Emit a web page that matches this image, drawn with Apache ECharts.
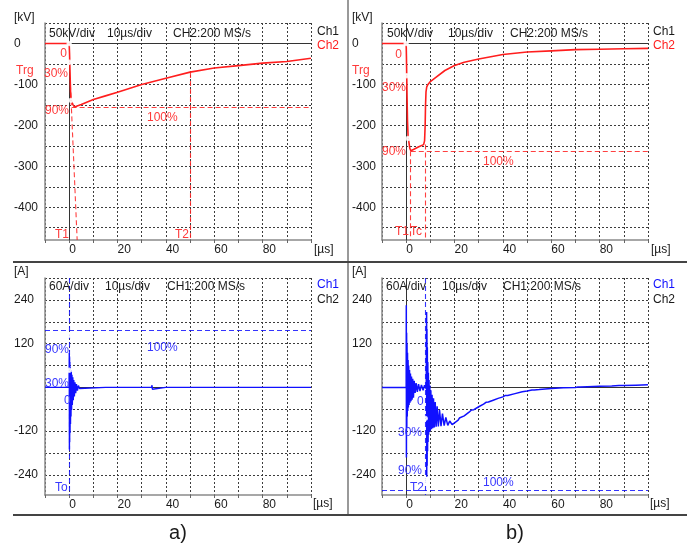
<!DOCTYPE html>
<html><head><meta charset="utf-8">
<script src="https://cdn.jsdelivr.net/npm/echarts@6/dist/echarts.min.js"></script>
<style>html,body{margin:0;padding:0;background:#fff}#c{width:693px;height:545px}</style>
</head><body><div id="c"></div>
<script>
// ---- axis ticks / labels ----
const xLabelVals = [0, 20, 40, 60, 80];
const kvGridVals = [50, 0, -50, -100, -150, -200, -250, -300, -350, -400, -450];
const kvLabelVals = [0, -100, -200, -300, -400];
const aGridVals = [300, 240, 180, 120, 60, 0, -60, -120, -180, -240];
const aLabelVals = [240, 120, -120, -240];

// ---- waveforms: [time µs, value] ----
const voltA = [[-10,0],[0,0],[0.15,-25],[0.35,-70],[0.55,-115],[0.75,-138],[0.95,-136],[1.2,-142],[1.6,-150],[2.2,-155],[3,-154],[5,-149],[10,-137],[15,-128],[20,-119],[30,-100],[40,-85],[50,-70],[60,-60],[70,-54],[80,-48],[90,-44],[100,-36]];
const voltB = [[-10,0],[0,0],[0.1,-30],[0.3,-110],[0.55,-190],[0.8,-228],[1.0,-236],[1.2,-240],[1.5,-256],[1.9,-262],[3,-259],[5,-253],[7.2,-247],[7.6,-238],[7.85,-200],[8.0,-150],[8.2,-118],[8.5,-106],[9,-100],[10,-93],[12,-84],[16,-66],[20,-54],[24,-46],[30,-38],[40,-27],[50,-21],[60,-18],[70,-15],[80,-14],[90,-13],[100,-12]];
const currA = [[-10,0],[-0.05,0],[0,0],[0.05,95],[0.1,-170],[0.15,85],[0.2,-150],[0.28,70],[0.36,-125],[0.45,55],[0.55,-100],[0.65,48],[0.75,-80],[0.88,42],[1.0,-62],[1.15,35],[1.3,-48],[1.5,28],[1.7,-35],[1.9,20],[2.15,-25],[2.4,14],[2.7,-16],[3.0,9],[3.4,-9],[3.8,5],[4.3,-3],[5,0],
  [15.1,0],[15.25,5],[15.4,-4],[15.55,0],[22.6,0],[22.75,5],[22.9,-4],[23.05,0],[34.1,0],[34.25,6],[34.4,-5],[34.55,0],[39.9,0],[40.05,5],[40.2,-5],[40.35,0],
  [53.6,0],[53.75,5],[53.9,-4],[54.05,0],[71.6,0],[71.75,4],[71.9,-4],[72.05,0],[78.6,0],[78.75,5],[78.9,-4],[79.05,0],[97.3,0],[97.45,5],[97.6,-4],[97.75,0],[100,0]];
const currB = [[-10,0],[0,0],[0.05,225],[0.1,-192],[0.18,150],[0.26,-110],[0.35,120],[0.45,-80],[0.55,95],[0.66,-65],[0.78,75],[0.9,-55],[1.05,60],[1.2,-48],[1.38,48],[1.56,-42],[1.76,38],[1.98,-38],[2.2,30],[2.45,-34],[2.7,24],[3.0,-28],[3.3,18],[3.7,-15],[4.1,12],[4.6,-12],[5.1,9],[5.7,-10],[6.3,7],[7.0,-8],[7.6,6],[8.3,-4],
  [8.45,207],[8.5,-245],[8.58,160],[8.66,-215],[8.75,110],[8.85,-175],[8.95,70],[9.06,-150],[9.18,40],[9.3,-130],[9.45,20],[9.6,-122],[9.78,5],[9.96,-118],[10.2,-8],[10.45,-115],[10.7,-20],[11.0,-112],[11.3,-30],[11.65,-110],[12.0,-40],[12.4,-108],[12.8,-52],[13.3,-107],[13.8,-62],[14.4,-106],[15.0,-72],[15.7,-105],[16.4,-82],[17.2,-104],[18.0,-92],[19.0,-102],
  [20,-97],[21.5,-90],[22,-84],[22.5,-89],[24,-78],[26,-68],[27,-62],[27.5,-67],[28,-61],[30,-53],[32,-46],[33,-41],[33.5,-46],[34,-40],[36,-35],[38,-30],[40,-26],[41,-22],[41.5,-27],[42,-22],[45,-17],[48,-12],[50,-10],[52,-7],[52.5,-12],[53,-7],[55,-6],[60,-3],[65,-1],[70,0],[71,1],[71.5,-4],[72,1],[75,2],[80,3],[85,4],[88,5],[88.5,0],[89,5],[90,5],[95,6],[100,7]];

// ---- annotation levels ----
const peakA_V = -155, peakB_V = -263, peakA_I = 158, peakB_I = -283;
const t2A = 50, t1B = 1.7, tcB = 7.9, t2B_I = 8;

const FONT = '"Liberation Sans", Arial, sans-serif';
const RED = '#ff1e1e', REDT = '#ff3a3a', BLUE = '#1010ff', BLUET = '#3838ff', BLK = '#1a1a1a';

const grids = [
  {left: 45, top: 23, width: 266, height: 217},
  {left: 382, top: 23, width: 266, height: 217},
  {left: 45, top: 278, width: 266, height: 217},
  {left: 382, top: 278, width: 266, height: 217}
];

const yCfg = [
  {min: -480, max: 50, g: kvGridVals, l: kvLabelVals, m: 31},
  {min: -480, max: 50, g: kvGridVals, l: kvLabelVals, m: 30},
  {min: -295, max: 300, g: aGridVals, l: aLabelVals, m: 31},
  {min: -295, max: 300, g: aGridVals, l: aLabelVals, m: 30}
];

const gridLine = {show: true, lineStyle: {color: '#3c3c3c', type: [2, 2], width: 1}};

const xAxes = grids.map((g, i) => ({
  type: 'value', gridIndex: i, min: -10, max: 100, interval: 10,
  axisLine: {show: true, onZero: false, lineStyle: {color: '#8a8a8a', width: 1.5}},
  axisTick: {show: true, length: 3, lineStyle: {color: '#666'}},
  axisLabel: {customValues: xLabelVals, align: 'left', margin: 4, color: BLK, fontSize: 12, fontFamily: FONT},
  splitLine: gridLine
}));
const yAxes = yCfg.map((c, i) => ({
  type: 'value', gridIndex: i, min: c.min, max: c.max,
  axisLine: {show: true, onZero: false, lineStyle: {color: '#8a8a8a', width: 1.5}},
  axisTick: {show: false, customValues: c.g},
  axisLabel: {customValues: c.l, align: 'left', margin: c.m, color: BLK, fontSize: 12, fontFamily: FONT},
  splitLine: gridLine
}));

function seg(x1, y1, x2, y2) { return [{coord: [x1, y1]}, {coord: [x2, y2]}]; }
const zeroStyle = {color: '#333', type: 'solid', width: 1};

function zeroSeries(i, withX) {
  const d = [{yAxis: 0}];
  if (withX) d.push({xAxis: 0});
  return {type: 'line', xAxisIndex: i, yAxisIndex: i, data: [], silent: true,
    markLine: {z: 1, symbol: 'none', silent: true, animation: false, label: {show: false}, lineStyle: zeroStyle, data: d}};
}
function traceSeries(i, data, color, width, marks, circles) {
  return {type: 'line', xAxisIndex: i, yAxisIndex: i, data: data, showSymbol: false, symbol: 'none',
    silent: true, animation: false, z: 3, lineStyle: {color: color, width: width},
    markLine: {symbol: 'none', silent: true, animation: false, label: {show: false},
      lineStyle: {color: color, type: [5, 3], width: 1.1, opacity: 0.85}, data: marks},
    markPoint: {symbol: 'emptyCircle', symbolSize: 3.5, silent: true, animation: false, label: {show: false},
      itemStyle: {color: '#fff', borderColor: color, borderWidth: 0.8, opacity: 0.8}, data: circles.map(c => ({coord: c}))}};
}

const series = [
  zeroSeries(0, true), zeroSeries(1, true), zeroSeries(2, false), zeroSeries(3, true),
  traceSeries(0, voltA, RED, 1.6,
    [seg(1, peakA_V, 100, peakA_V), seg(0.5, -100, 3.3, -480), seg(t2A, -72, t2A, -480)],
    [[0, 0], [0.2, -46], [0.75, -139]]),
  traceSeries(1, voltB, RED, 1.6,
    [seg(1.9, peakB_V, 100, peakB_V), seg(t1B, peakB_V, t1B, -480), seg(tcB, -247, tcB, -480)],
    [[0, 0], [0.25, -79], [0.8, -232]]),
  traceSeries(2, currA, BLUE, 1.4,
    [seg(-10, peakA_I, 100, peakA_I), seg(0, 300, 0, -295)],
    [[0, 47], [0, 143]]),
  traceSeries(3, currB, BLUE, 1.5,
    [seg(-10, peakB_I, 100, peakB_I), seg(t2B_I, 300, t2B_I, -295)],
    [[7.9, -85], [7.9, -255]])
];

function T(x, y, text, color, opt) {
  opt = opt || {};
  return {type: 'text', silent: true, z: 100, style: {x: x, y: y, text: text, fill: color,
    font: (opt.size || 12) + 'px ' + FONT, textAlign: opt.align || 'left', textVerticalAlign: 'middle'}};
}
function L(x1, y1, x2, y2, c, w) {
  return {type: 'line', silent: true, z: 90, shape: {x1: x1, y1: y1, x2: x2, y2: y2}, style: {stroke: c, lineWidth: w}};
}

const graphics = [
  L(348, 0, 348, 515, '#777', 1.5), L(13, 262, 687, 262, '#444', 2), L(13, 515, 687, 515, '#444', 2),
  // top a
  T(14, 18, '[kV]', BLK), T(49, 33.5, '50kV/div', BLK), T(107, 33.5, '10µs/div', BLK), T(173, 33.5, 'CH2:200 MS/s', BLK),
  T(317, 32, 'Ch1', BLK), T(317, 45.5, 'Ch2', RED), T(314, 249.5, '[µs]', BLK),
  T(67, 53.5, '0', REDT, {align: 'right'}), T(16, 70.5, 'Trg', REDT), T(44, 74, '30%', REDT), T(45, 111, '90%', REDT),
  T(147, 117.5, '100%', REDT), T(55, 235, 'T1', REDT), T(175, 235, 'T2', REDT),
  // top b
  T(352, 18, '[kV]', BLK), T(387, 33.5, '50kV/div', BLK), T(448, 33.5, '10µs/div', BLK), T(510, 33.5, 'CH2:200 MS/s', BLK),
  T(653, 32, 'Ch1', BLK), T(653, 45.5, 'Ch2', RED), T(651, 249.5, '[µs]', BLK),
  T(402, 55, '0', REDT, {align: 'right'}), T(352, 70.5, 'Trg', REDT), T(382, 88, '30%', REDT), T(382, 151.5, '90%', REDT),
  T(483, 162, '100%', REDT), T(395, 232, 'T1', REDT), T(410, 232, 'Tc', REDT),
  // bottom a
  T(14, 271.5, '[A]', BLK), T(49, 286.5, '60A/div', BLK), T(105, 286.5, '10µs/div', BLK), T(167, 286.5, 'CH1:200 MS/s', BLK),
  T(317, 285, 'Ch1', BLUE), T(317, 300, 'Ch2', BLK), T(313, 504, '[µs]', BLK),
  T(45, 350, '90%', BLUET), T(45, 384, '30%', BLUET), T(64, 401, '0', BLUET), T(147, 348, '100%', BLUET), T(55, 488, 'To', BLUET),
  // bottom b
  T(352, 271.5, '[A]', BLK), T(386, 286.5, '60A/div', BLK), T(442, 286.5, '10µs/div', BLK), T(503, 286.5, 'CH1:200 MS/s', BLK),
  T(653, 285, 'Ch1', BLUE), T(653, 300, 'Ch2', BLK), T(650, 504, '[µs]', BLK),
  T(417, 402, '0', BLUET), T(398, 433, '30%', BLUET), T(398, 471, '90%', BLUET), T(410, 488, 'T2', BLUET), T(483, 483, '100%', BLUET),
  // captions
  T(178, 533, 'a)', BLK, {size: 20, align: 'center'}), T(515, 533, 'b)', BLK, {size: 20, align: 'center'})
];

const chart = echarts.init(document.getElementById('c'), null, {renderer: 'canvas'});
chart.setOption({
  animation: false,
  backgroundColor: '#fff',
  grid: grids,
  xAxis: xAxes,
  yAxis: yAxes,
  series: series,
  graphic: graphics
});
</script></body></html>
